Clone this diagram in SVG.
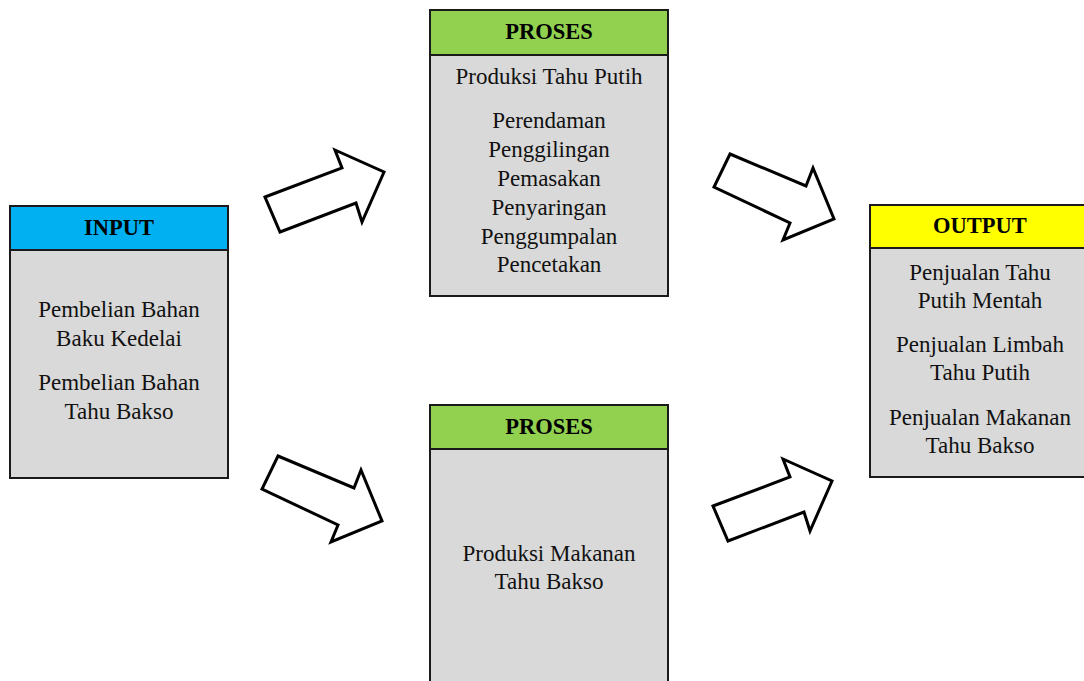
<svg xmlns="http://www.w3.org/2000/svg" xmlns:xlink="http://www.w3.org/1999/xlink" width="1084" height="681" viewBox="0 0 1084 681">
  <style>
    .box { fill: #D9D9D9; stroke: #1a1a1a; stroke-width: 2; }
    .hdr { stroke: #1a1a1a; stroke-width: 2; }
    .in { fill: #00B0F0; }
    .pr { fill: #92D050; }
    .out { fill: #FFFF00; }
    .title { font-family: "Liberation Serif", "Times New Roman", serif; font-size: 22.5px; font-weight: bold; fill: #000; text-anchor: middle; }
    .body { font-family: "Liberation Serif", "Times New Roman", serif; font-size: 23px; fill: #111; text-anchor: middle; }
    .arrow { fill: #fff; stroke: #000; stroke-width: 3; stroke-linejoin: miter; }
  </style>
  <defs>
    <!-- block arrow pointing up-right, tail corner at origin -->
    <polygon id="arrowUp" points="0,0 77,-29 70,-47 119,-25 97,25 91,6 15,35"/>
    <!-- block arrow pointing down-right, tail corner at origin -->
    <polygon id="arrowDown" points="0,0 76,32 83,14 104,65 53,86 60,69 -16,33"/>
  </defs>
  <rect width="1084" height="681" fill="#fff"/>

  <g id="input">
    <rect class="box" x="10" y="206" width="218" height="272"/>
    <rect class="hdr in" x="10" y="206" width="218" height="44"/>
    <text class="title" x="119" y="235">INPUT</text>
    <text class="body" x="119" y="317">Pembelian Bahan</text>
    <text class="body" x="119" y="346">Baku Kedelai</text>
    <text class="body" x="119" y="390">Pembelian Bahan</text>
    <text class="body" x="119" y="419">Tahu Bakso</text>
  </g>

  <g id="proses-tahu-putih">
    <rect class="box" x="430" y="10" width="238" height="286"/>
    <rect class="hdr pr" x="430" y="10" width="238" height="45"/>
    <text class="title" x="549" y="39">PROSES</text>
    <text class="body" x="549" y="84">Produksi Tahu Putih</text>
    <text class="body" x="549" y="128">Perendaman</text>
    <text class="body" x="549" y="157">Penggilingan</text>
    <text class="body" x="549" y="186">Pemasakan</text>
    <text class="body" x="549" y="215">Penyaringan</text>
    <text class="body" x="549" y="244">Penggumpalan</text>
    <text class="body" x="549" y="272">Pencetakan</text>
  </g>

  <g id="proses-tahu-bakso">
    <rect class="box" x="430" y="405" width="238" height="290"/>
    <rect class="hdr pr" x="430" y="405" width="238" height="44"/>
    <text class="title" x="549" y="434">PROSES</text>
    <text class="body" x="549" y="561">Produksi Makanan</text>
    <text class="body" x="549" y="589">Tahu Bakso</text>
  </g>

  <g id="output">
    <rect class="box" x="870" y="205" width="222" height="272"/>
    <rect class="hdr out" x="870" y="205" width="222" height="43"/>
    <text class="title" x="980" y="233">OUTPUT</text>
    <text class="body" x="980" y="280">Penjualan Tahu</text>
    <text class="body" x="980" y="308">Putih Mentah</text>
    <text class="body" x="980" y="352">Penjualan Limbah</text>
    <text class="body" x="980" y="380">Tahu Putih</text>
    <text class="body" x="980" y="425">Penjualan Makanan</text>
    <text class="body" x="980" y="453">Tahu Bakso</text>
  </g>

  <g id="connectors">
    <use class="arrow" xlink:href="#arrowUp" transform="translate(265,197)"/>
    <use class="arrow" xlink:href="#arrowDown" transform="translate(278,456)"/>
    <use class="arrow" xlink:href="#arrowDown" transform="translate(730,154)"/>
    <use class="arrow" xlink:href="#arrowUp" transform="translate(713,506)"/>
  </g>
</svg>
